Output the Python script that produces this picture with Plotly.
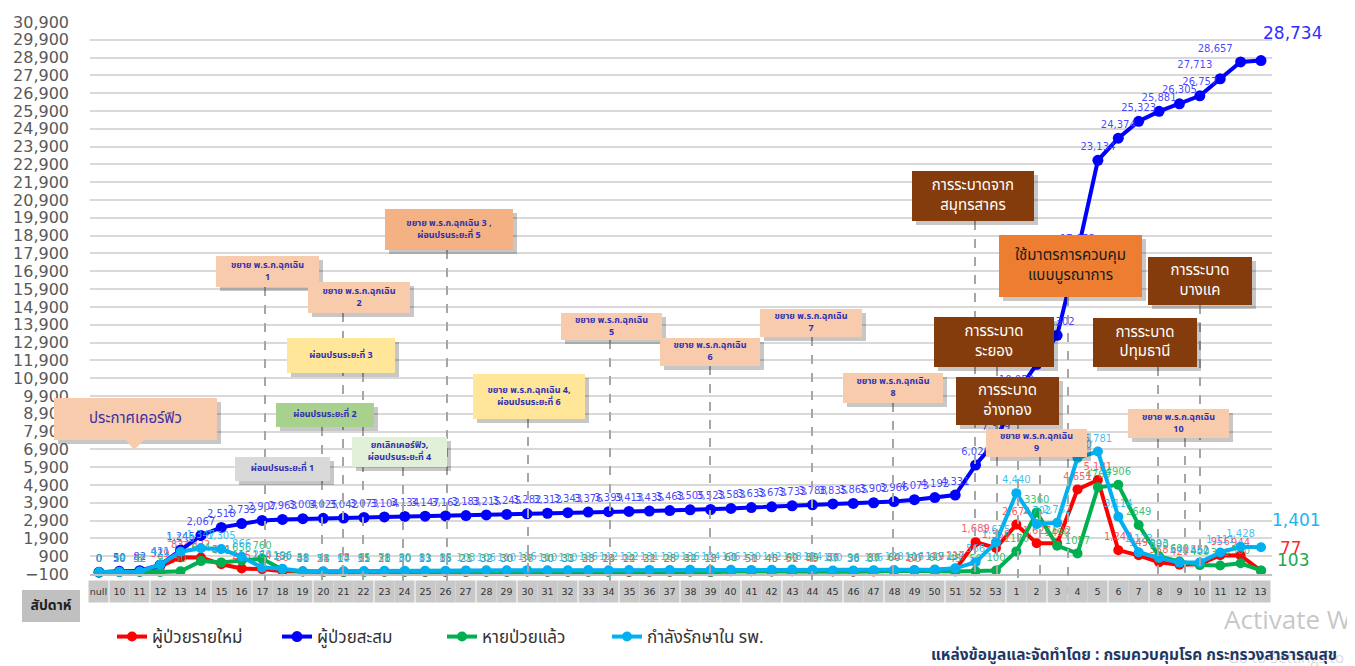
import plotly.graph_objects as go

# ---------------- data ----------------
WEEKS = ["null", "10", "11", "12", "13", "14", "15", "16", "17", "18",
         "19", "20", "21", "22", "23", "24", "25", "26", "27", "28",
         "29", "30", "31", "32", "33", "34", "35", "36", "37", "38",
         "39", "40", "41", "42", "43", "44", "45", "46", "47", "48",
         "49", "50", "51", "52", "53",
         "1", "2", "3", "4", "5", "6", "7", "8", "9", "10", "11", "12", "13"]

CUMULATIVE = [0, 50, 82, 411, 1245, 2067, 2518, 2733, 2907, 2963,
              3004, 3025, 3042, 3073, 3104, 3134, 3147, 3162, 3183, 3215,
              3245, 3282, 3312, 3343, 3376, 3399, 3413, 3435, 3463, 3505,
              3523, 3583, 3633, 3673, 3733, 3788, 3835, 3865, 3902, 3966,
              4073, 4192, 4331, 6020, 7379,
              10053, 11680, 13302, 17953, 23134, 24374, 25323, 25881, 26305, 26757, 27713, 28657, 28734]

NEW_CASES = [0, 50, 32, 329, 834, 822, 451, 215, 174, 56,
             41, 21, 17, 31, 31, 30, 13, 15, 21, 32,
             30, 37, 30, 31, 33, 23, 14, 22, 28, 42,
             18, 60, 50, 40, 60, 55, 47, 30, 37, 64,
             107, 119, 139, 1689, 1359,
             2674, 1627, 1622, 4651, 5181, 1240, 949, 558, 424, 452, 956, 944, 77]

RECOVERED = [0, 30, 8, 9, 50, 624, 551, 656, 760, 150,
             38, 18, 14, 15, 28, 30, 33, 35, 23, 32,
             30, 36, 30, 33, 28, 14, 22, 31, 28, 34,
             12, 61, 51, 45, 52, 49, 56, 36, 86, 60,
             50, 60, 45, 50, 100,
             1170, 3360, 1490, 1057, 4769, 4906, 2649, 893, 600, 400, 380, 500, 103]

IN_HOSPITAL = [0, 19, 42, 421, 1150, 1347, 1305, 866, 260, 196,
               58, 54, 65, 65, 78, 80, 81, 85, 103, 106,
               110, 116, 110, 110, 126, 112, 122, 131, 129, 136,
               124, 136, 130, 142, 148, 134, 100, 96, 106, 128,
               116, 147, 217, 566, 1675,
               4440, 2702, 2782, 6420, 6781, 3114, 1123, 800, 540, 551, 1111, 1428, 1401]

SERIES_NAMES = ["ผู้ป่วยรายใหม่", "ผู้ป่วยสะสม", "หายป่วยแล้ว", "กำลังรักษาใน รพ."]
X_TITLE = "สัปดาห์"
SOURCE = "แหล่งข้อมูลและจัดทำโดย : กรมควบคุมโรค กระทรวงสาธารณสุข"

# ---------------- layout constants (screen pixels) ----------------
W, H = 1355, 666
OFFX, OFFY = 8, 8          # page (body margin) offset of the figure in the browser
PLOT_L, PLOT_R, PLOT_T, PLOT_B = 90, 1272, 22, 574
XR = (-0.44, 57.54)
YR = (-100, 30900)
THAI = "Tahoma, 'Noto Sans Thai', 'Noto Sans', 'DejaVu Sans', sans-serif"
NUM = "'DejaVu Sans', Verdana, sans-serif"

x = list(range(len(WEEKS)))
last = len(x) - 1

fig = go.Figure()

styles = [
    (NEW_CASES, "#ff0000", "rgba(255,70,70,0.9)", True),
    (CUMULATIVE, "#0000ff", "rgba(60,60,255,0.95)", True),
    (RECOVERED, "#00b050", "rgba(40,185,100,0.9)", False),
    (IN_HOSPITAL, "#00b0f0", "rgba(40,185,240,0.9)", True),
]

for name, (vals, col, tcol, comma) in zip(SERIES_NAMES, styles):
    texts = []
    for i, v in enumerate(vals):
        if i == last:
            texts.append("")
        else:
            texts.append(f"{v:,}" if comma else f"{v}")
    pos = ["top center"] * len(vals)
    if vals is CUMULATIVE:
        pos[55] = "top left"
        pos[56] = "top left"
    fig.add_trace(go.Scatter(
        x=x, y=vals, name=name, mode="lines+markers+text",
        line=dict(color=col, width=4),
        marker=dict(color=col, size=11 if vals is CUMULATIVE else 10),
        text=texts, textposition=pos,
        textfont=dict(family=NUM, size=10, color=tcol),
        cliponaxis=False, hoverinfo="x+y",
    ))

# ---------------- decoration layer (pixel-coordinate overlay subplot) ----------------
PEACH, ORANGE, YELLOW, GREENB, LGREEN, GREY, BROWN, DORANGE = (
    "#f8cbad", "#f4b183", "#ffe699", "#a9d18e", "#e2f0d9", "#d9d9d9", "#843c0c", "#ed7d31")
TXT = "#3030b0"
# (pixel box), fill, text, size, colour, bold, dashed-line x (px)
EVENTS = [
    ((54, 398, 217, 440), PEACH, "ประกาศเคอร์ฟิว", 15, "#3d2f9e", False, None),
    ((216, 256, 319, 287), PEACH, "ขยาย พ.ร.ก.ฉุกเฉิน<br>1", 9, TXT, True, 265),
    ((308, 282, 410, 313), PEACH, "ขยาย พ.ร.ก.ฉุกเฉิน<br>2", 9, TXT, True, 343),
    ((385, 209, 513, 250), ORANGE, "ขยาย พ.ร.ก.ฉุกเฉิน 3 ,<br>ผ่อนปรนระยะที่ 5", 9, TXT, True, 447),
    ((287, 338, 395, 373), YELLOW, "ผ่อนปรนระยะที่ 3", 9, TXT, True, 363),
    ((276, 403, 374, 427), GREENB, "ผ่อนปรนระยะที่ 2", 9, TXT, True, 322),
    ((352, 437, 447, 467), LGREEN, "ยกเลิกเคอร์ฟิว,<br>ผ่อนปรนระยะที่ 4", 9, TXT, True, 403),
    ((235, 457, 330, 481), GREY, "ผ่อนปรนระยะที่ 1", 9, TXT, True, None),
    ((473, 374, 585, 419), YELLOW, "ขยาย พ.ร.ก.ฉุกเฉิน 4,<br>ผ่อนปรนระยะที่ 6", 9, TXT, True, 528),
    ((561, 313, 662, 340), PEACH, "ขยาย พ.ร.ก.ฉุกเฉิน<br>5", 9, TXT, True, 610),
    ((660, 338, 760, 366), PEACH, "ขยาย พ.ร.ก.ฉุกเฉิน<br>6", 9, TXT, True, 710),
    ((760, 309, 862, 337), PEACH, "ขยาย พ.ร.ก.ฉุกเฉิน<br>7", 9, TXT, True, 812),
    ((843, 373, 943, 403), PEACH, "ขยาย พ.ร.ก.ฉุกเฉิน<br>8", 9, TXT, True, 893),
    ((912, 171, 1034, 221), BROWN, "การระบาดจาก<br>สมุทรสาคร", 15, "#ffffff", False, 975),
    ((999, 235, 1142, 297), DORANGE, "ใช้มาตรการควบคุม<br>แบบบูรณาการ", 15, "#1a1a1a", False, 1068),
    ((934, 317, 1054, 367), BROWN, "การระบาด<br>ระยอง", 15, "#ffffff", False, 997),
    ((956, 377, 1059, 425), BROWN, "การระบาด<br>อ่างทอง", 15, "#ffffff", False, 1018),
    ((986, 429, 1087, 457), PEACH, "ขยาย พ.ร.ก.ฉุกเฉิน<br>9", 9, TXT, True, 1040),
    ((1148, 257, 1252, 305), BROWN, "การระบาด<br>บางแค", 15, "#ffffff", False, 1200),
    ((1093, 318, 1197, 367), BROWN, "การระบาด<br>ปทุมธานี", 15, "#ffffff", False, 1158),
    ((1128, 409, 1229, 438), PEACH, "ขยาย พ.ร.ก.ฉุกเฉิน<br>10", 9, TXT, True, 1185),
]

OV = dict(xaxis="x2", yaxis="y2", showlegend=False, hoverinfo="skip")

for (x0, y0, x1, y1), fill, text, size, tc, bold, lx in EVENTS:
    if lx is None:
        continue
    fig.add_trace(go.Scatter(x=[lx, lx], y=[y1, 600], mode="lines",
                             line=dict(color="#a6a6a6", width=2, dash="dash"), **OV))


def rect_xy(x0, y0, x1, y1):
    return [x0, x1, x1, x0, x0], [y0, y0, y1, y1, y0]


for i, ((x0, y0, x1, y1), fill, text, size, tc, bold, lx) in enumerate(EVENTS):
    sx, sy = rect_xy(x0 + 4, y0 + 4, x1 + 4, y1 + 4)
    fig.add_trace(go.Scatter(x=sx, y=sy, mode="lines", fill="toself",
                             fillcolor="rgba(0,0,0,0.22)", line=dict(width=0), **OV))
    if i == 0:  # callout pointer of the curfew box
        fig.add_trace(go.Scatter(x=[126, 144, 134, 126], y=[y1, y1, y1 + 10, y1],
                                 mode="lines", fill="toself", fillcolor=fill,
                                 line=dict(width=0), **OV))
    bx, by = rect_xy(x0, y0, x1, y1)
    fig.add_trace(go.Scatter(x=bx, y=by, mode="lines", fill="toself",
                             fillcolor=fill, line=dict(width=0), **OV))
    fig.add_trace(go.Scatter(x=[(x0 + x1) / 2], y=[(y0 + y1) / 2], mode="text",
                             text=[f"<b>{text}</b>" if bold else text],
                             textposition="middle center",
                             textfont=dict(family=THAI, size=size, color=tc), **OV))

# x-axis title in grey box
bx, by = rect_xy(22, 590, 80, 622)
fig.add_trace(go.Scatter(x=bx, y=by, mode="lines", fill="toself", fillcolor="#c0c0c0",
                         line=dict(width=0), **OV))
fig.add_trace(go.Scatter(x=[51], y=[606], mode="text", text=[f"<b>{X_TITLE}</b>"],
                         textposition="middle center",
                         textfont=dict(family=THAI, size=14, color="#222222"), **OV))
# watermark + source line
fig.add_trace(go.Scatter(x=[1224], y=[622], mode="text", text=["Activate Windows"],
                         textposition="middle right",
                         textfont=dict(family="'Open Sans', sans-serif", size=26,
                                       color="rgba(150,150,150,0.55)"), **OV))
fig.add_trace(go.Scatter(x=[1228], y=[659], mode="text", text=["Go to Settings to activate Windows."],
                         textposition="middle right",
                         textfont=dict(family="'Open Sans', sans-serif", size=15,
                                       color="rgba(170,170,170,0.45)"), **OV))
fig.add_trace(go.Scatter(x=[1337], y=[656], mode="text", text=[f"<b>{SOURCE}</b>"],
                         textposition="middle left",
                         textfont=dict(family=THAI, size=15.5, color="#1f3864"), **OV))

annotations = []
# end-of-series labels
end_labels = [
    (CUMULATIVE, "#2f2fff", 17, 32, 28),
    (IN_HOSPITAL, "#1fb3ee", 17, 36, 27),
    (NEW_CASES, "#ff2a2a", 17, 30, 23),
    (RECOVERED, "#1aa850", 17, 32, 10),
]
for vals, col, size, xs, ys in end_labels:
    annotations.append(dict(x=last, y=vals[last], xref="x", yref="y",
                            text=f"{vals[last]:,}", showarrow=False,
                            font=dict(family=NUM, size=size, color=col),
                            xshift=xs, yshift=ys))

# x tick labels in grey boxes
for i, wk in enumerate(WEEKS):
    annotations.append(dict(x=i, y=591, xref="x", yref="y2", text=wk,
                            showarrow=False, bgcolor="#c8c8c8", width=17, height=19,
                            font=dict(family=NUM, size=9.5, color="#333333"),
                            xanchor="center", yanchor="middle"))

fig.update_layout(
    width=W, height=H, autosize=False,
    margin=dict(l=0, r=0, t=0, b=0, pad=0, autoexpand=False),
    paper_bgcolor="white", plot_bgcolor="rgba(0,0,0,0)",
    xaxis=dict(domain=[(PLOT_L - OFFX) / W, (PLOT_R - OFFX) / W], range=list(XR),
               showgrid=False, zeroline=False,
               showticklabels=False, showline=True, linecolor="#bfbfbf", linewidth=1.5,
               fixedrange=True, anchor="y", automargin=False),
    yaxis=dict(domain=[(H - PLOT_B + OFFY) / H, (H - PLOT_T + OFFY) / H], range=list(YR),
               tickmode="linear", tick0=-100, dtick=1000, tickformat=",",
               showgrid=True, gridcolor="#d9d9d9", gridwidth=1.6, zeroline=False,
               ticklabelstandoff=20, anchor="x", automargin=False,
               tickfont=dict(family=NUM, size=16, color="#595959"), fixedrange=True),
    xaxis2=dict(domain=[0, 1], range=[OFFX, W + OFFX], visible=False, fixedrange=True, anchor="y2"),
    yaxis2=dict(domain=[0, 1], range=[H + OFFY, OFFY], visible=False, fixedrange=True, anchor="x2"),
    legend=dict(orientation="h", x=(112 - OFFX) / W, y=(H - 637 + OFFY) / H,
                xanchor="left", yanchor="middle",
                font=dict(family=THAI, size=17, color="#333333"),
                entrywidth=120, bgcolor="rgba(0,0,0,0)"),
    showlegend=True,
    annotations=annotations,
)

fig.write_html("out.html")
